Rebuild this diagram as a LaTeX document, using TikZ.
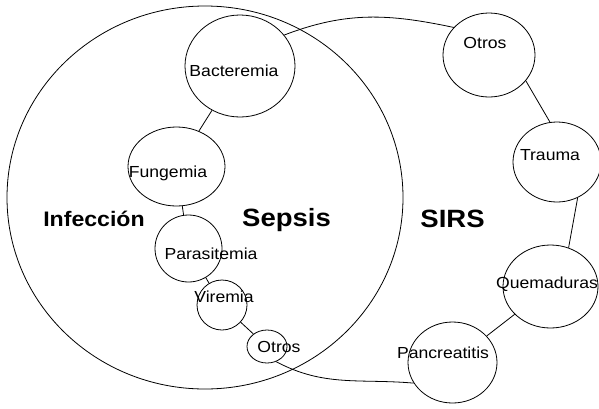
\documentclass[tikz,border=0pt]{standalone}
\usepackage{fontspec}
\setmainfont{Liberation Sans}[FakeStretch=1.1]
\usetikzlibrary{shapes.geometric}

\begin{document}
\begin{tikzpicture}[
    x=1pt, y=-1pt,
    line width=0.8pt,
    setbox/.style={draw, ellipse, inner sep=0pt},
    item/.style={draw, ellipse, inner sep=0pt},
    itemtext/.style={anchor=base, inner sep=0pt, font=\fontsize{16}{18}\selectfont},
    settext/.style={anchor=base, inner sep=0pt, font=\bfseries\fontsize{25}{28}\selectfont}
  ]
  \useasboundingbox (0,0) rectangle (599,408);

  % Infection set
  \node[setbox, minimum width=396pt, minimum height=383pt] (infec) at (205,197.5) {};

  % Items on the SIRS ring
  \node[item, minimum width=110pt, minimum height=102pt] (bact) at (240,66) {};
  \node[item, minimum width=97pt, minimum height=79pt] (fung) at (176.5,166.5) {};
  \node[item, minimum width=67pt, minimum height=67pt] (para) at (188.5,248.5) {};
  \node[item, minimum width=50pt, minimum height=50pt] (vir) at (222,305) {};
  \node[item, minimum width=40pt, minimum height=33pt] (otrosA) at (267,346.5) {};
  \node[item, minimum width=89pt, minimum height=81pt] (pan) at (452.5,362.5) {};
  \node[item, minimum width=95pt, minimum height=83pt] (quem) at (550.5,286.5) {};
  \node[item, minimum width=88pt, minimum height=80pt] (trau) at (557,162) {};
  \node[item, minimum width=92pt, minimum height=84pt] (otrosB) at (489,55) {};

  % Item labels
  \node[itemtext] (bactT) at (234,76) {Bacteremia};
  \node[itemtext] (fungT) at (168,177) {Fungemia};
  \node[itemtext] (paraT) at (211,259) {Parasitemia};
  \node[itemtext] (virT) at (224,302) {Viremia};
  \node[itemtext] (otrosAT) at (279,352) {Otros};
  \node[itemtext] (panT) at (443,358) {Pancreatitis};
  \node[itemtext] (quemT) at (547,288) {Quemaduras};
  \node[itemtext] (trauT) at (550,160) {Trauma};
  \node[itemtext] (otrosBT) at (485,48) {Otros};

  % Set labels
  \node[settext, font=\bfseries\fontsize{21}{24}\selectfont] (infecT) at (94,226) {Infección};
  \node[settext] (sepsT) at (286.5,226) {Sepsis};
  \node[settext] (sirsT) at (452.5,227) {SIRS};

  % Ring links
  \foreach \src/\dst in {bact/fung, fung/para, para/vir, vir/otrosA, pan/quem} {
      \draw (\src) -- (\dst);
    }
  \draw (quem.65) -- (trau.-60);
  \draw (otrosB.-35) -- (trau.100);
  \draw (bact.35) to[out=21, in=168] (otrosB.142);
  \draw (otrosA.-59) to[out=-28, in=175] (pan.-152);
\end{tikzpicture}
\end{document}
